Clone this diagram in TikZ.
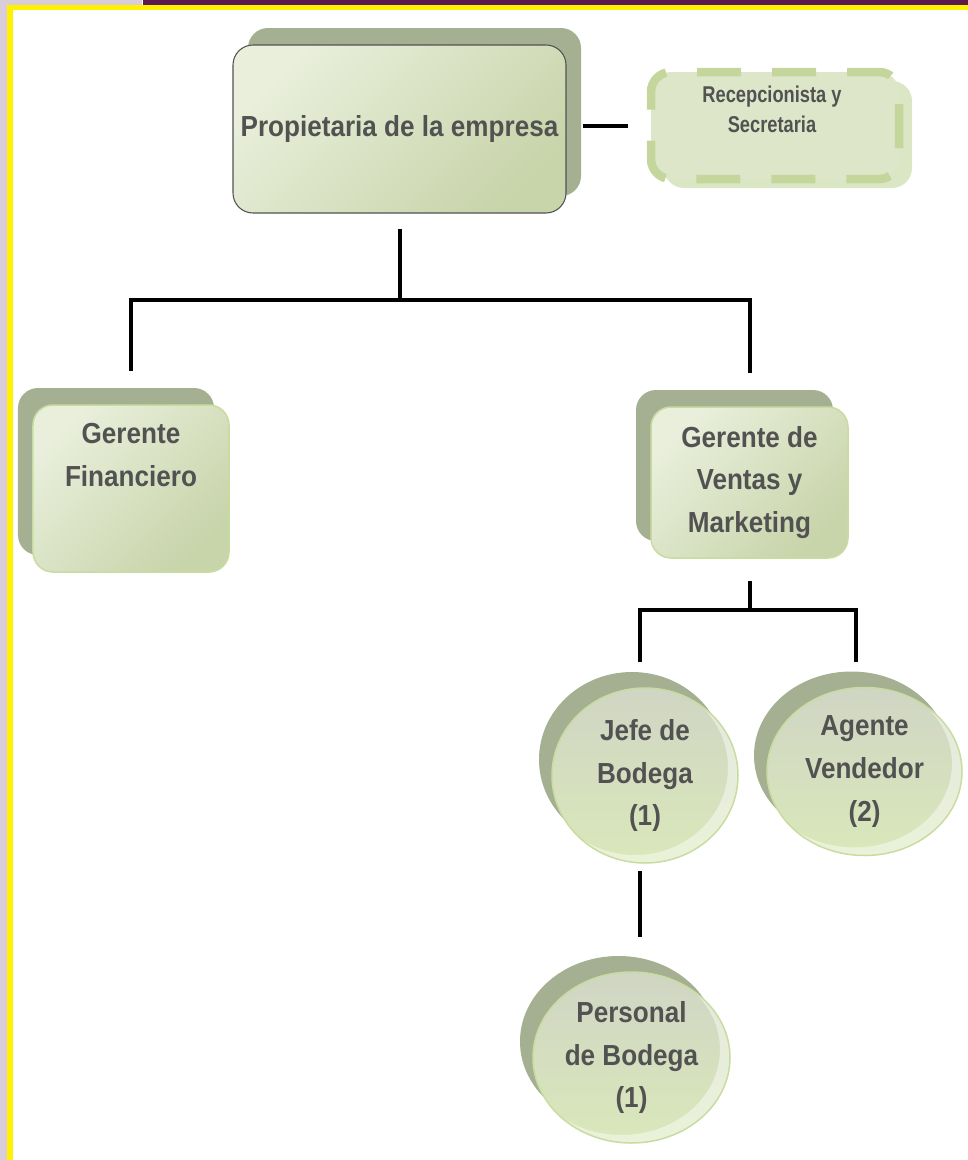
\documentclass[tikz,border=0pt]{standalone}
\usepackage{fontspec}
\newfontfamily\chartfont{Liberation Sans}[FakeStretch=0.9]
\newfontfamily\recfont{Liberation Sans}[FakeStretch=0.8]
\usetikzlibrary{shapes.geometric,shadows}

\definecolor{sage}{RGB}{165,175,145}
\definecolor{leaflight}{RGB}{233,239,219}
\definecolor{leafdark}{RGB}{200,212,170}
\definecolor{leafedge}{RGB}{200,220,160}
\definecolor{bubbletop}{RGB}{208,213,196}
\definecolor{bubblebottom}{RGB}{218,232,186}
\definecolor{dashgreen}{RGB}{196,214,156}
\definecolor{recfill}{RGB}{221,230,200}
\definecolor{recback}{RGB}{218,230,196}
\definecolor{inkgray}{RGB}{82,82,82}
\definecolor{framemauve}{RGB}{216,205,216}
\definecolor{frameplum}{RGB}{92,26,75}

\begin{document}
\begin{tikzpicture}[
  txt/.style={text=inkgray,align=center,font=\chartfont\bfseries\fontsize{8.25}{12.2}\selectfont},
  rectxt/.style={text=inkgray,align=center,font=\recfont\bfseries\fontsize{6.5}{8.6}\selectfont},
  conn/.style={line width=0.4mm,black},
  cardbase/.style={rectangle,rounded corners=2mm,inner sep=0pt,line width=0.15mm,draw=leafedge,
    top color=leaflight,bottom color=leafdark,shading angle=45,txt},
  card/.style={cardbase,general shadow={shadow xshift=-1.5mm,shadow yshift=1.7mm,fill=sage}},
  topcard/.style={cardbase,draw=inkgray,line width=0.3pt,
    general shadow={shadow xshift=1.5mm,shadow yshift=1.7mm,fill=sage}},
  recbox/.style={rectangle,rounded corners=2mm,inner sep=0pt,fill=recfill,draw=dashgreen,
    line width=0.85mm,dash pattern=on 4.4mm off 3.1mm,dash phase=1.2mm,
    general shadow={shadow xshift=1.3mm,shadow yshift=-0.9mm,fill=recback}},
  bubble/.style 2 args={ellipse,inner sep=0pt,minimum width=#1,minimum height=#2,
    line width=0.15mm,draw=leafedge,top color=bubbletop,bottom color=bubblebottom,txt,
    general shadow={shadow xshift=-1.3mm,shadow yshift=1.6mm,fill=sage},
    path picture={\fill[white,opacity=0.45,even odd rule]
      (path picture bounding box.center) ellipse [x radius=#1/2,y radius=#2/2]
      ([xshift=-1mm,yshift=0.8mm]path picture bounding box.center) ellipse [x radius=#1/2,y radius=#2/2];}}
]

%FRAME
\useasboundingbox (0,0) rectangle (9.68,-11.6);
\fill[framemauve] (0,0) rectangle (0.07,-11.6);
\fill[framemauve] (0,0) rectangle (1.42,-0.045);
\fill[frameplum] (1.43,0) rectangle (9.68,-0.045);
\fill[yellow] (0.07,-0.045) rectangle (9.68,-0.095);
\fill[yellow] (0.07,-0.045) rectangle (0.127,-11.6);

%BOXES
\node[topcard,minimum width=3.33cm,minimum height=1.68cm] (prop) at (3.995,-1.29) {Propietaria de la empresa};
\node[recbox,minimum width=2.48cm,minimum height=1.07cm,
  label={[rectxt,name=rectext,xshift=-0.3mm,yshift=1.65mm]center:{Recepcionista y\\Secretaria}}] (rec) at (7.75,-1.255) {};
\node[card,minimum width=1.96cm,minimum height=1.67cm,
  label={[txt,name=gftext,yshift=3.35mm]center:{Gerente\\Financiero}}] (gf) at (1.31,-4.885) {};
\node[card,minimum width=1.97cm,minimum height=1.51cm] (gv) at (7.495,-4.825) {Gerente de\\Ventas y\\Marketing};

%CIRCLES
\node[bubble={1.86cm}{1.75cm}] (jefe) at (6.45,-7.755) {Jefe de\\Bodega\\(1)};
\node[bubble={1.95cm}{1.68cm}] (agent) at (8.645,-7.715) {Agente\\Vendedor\\(2)};
\node[bubble={1.97cm}{1.71cm}] (pers) at (6.315,-10.575) {Personal\\de Bodega\\(1)};

%LINES
\coordinate (bus1) at (4.05,-3.00);
\coordinate (bus2) at (7.48,-6.10);
% owner to reception
\draw[conn,shorten <=1.6mm,shorten >=1.9mm] (prop.east |- rec.west) -- (rec.west);
% owner to managers
\draw[conn,shorten <=1.5mm] (prop.south) -- (prop.south |- bus1);
\draw[conn,shorten <=3.3mm,shorten >=3.3mm] (gf.north) -- (gf.north |- bus1) -- (gv.north |- bus1) -- (gv.north);
% sales to staff
\draw[conn,shorten <=2.2mm] (gv.south) -- (gv.south |- bus2);
\draw[conn,shorten <=2.5mm,shorten >=2.5mm] ([xshift=-0.5mm]jefe.north) -- ([xshift=-0.5mm]jefe.north |- bus2)
  -- ([xshift=-0.9mm]agent.north |- bus2) -- ([xshift=-0.9mm]agent.north);
% warehouse
\draw[conn,shorten <=0.7mm,shorten >=3.4mm] ([xshift=-0.5mm]jefe.south) -- ([xshift=-0.5mm]jefe.south |- pers.north);

\end{tikzpicture}
\end{document}
